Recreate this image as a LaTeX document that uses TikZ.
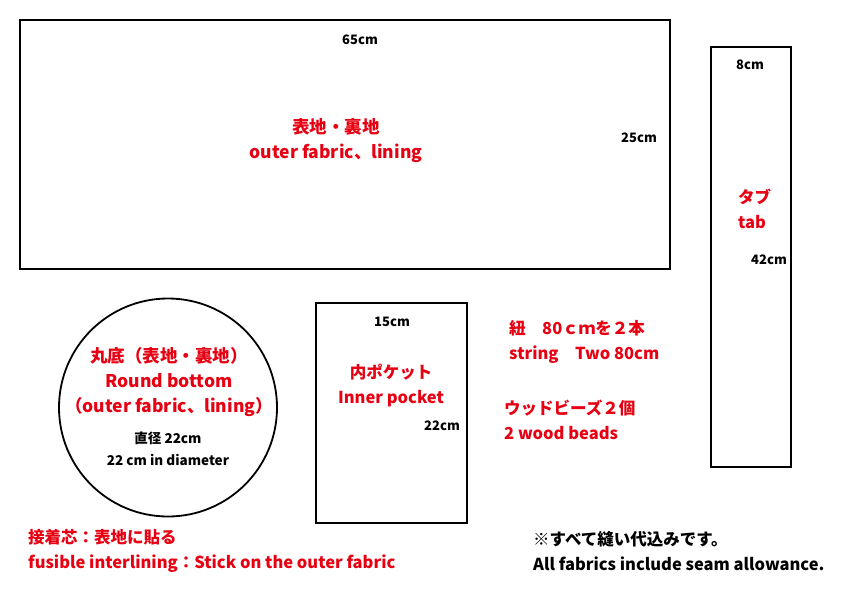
\documentclass[tikz,border=0pt]{standalone}
\usepackage{fontspec}
\setmainfont{Noto Sans CJK JP}
\usetikzlibrary{positioning}
\definecolor{patred}{RGB}{230,0,18}
\newcommand{\bigtext}{\fontsize{16.5}{25}\selectfont\bfseries}
\newcommand{\largetext}{\fontsize{17.5}{25}\selectfont\bfseries}
\newcommand{\smalltext}{\fontsize{13}{22}\selectfont\bfseries}
\tikzstyle{piece} = [draw=black, line width=1.8pt]
\tikzstyle{title} = [font=\bigtext, text=patred, align=center, inner sep=0pt]
\tikzstyle{size} = [font=\smalltext, align=center, inner sep=0pt]
\tikzstyle{note} = [font=\bigtext, align=left, anchor=west, inner sep=0pt]

\begin{document}
\begin{tikzpicture}[x=1pt, y=-1pt, node distance=4pt]

		\useasboundingbox (0,0) rectangle (842,595);

		% body
		\draw [piece] (20,20) rectangle (670,269);
		\node (body_w) [size] at (360,40) {65cm};
		\node (body_h) [size] at (639,138) {25cm};
		\node (body) [title, font=\largetext] at (336,141) {表地・裏地\\outer fabric、lining};

		% tab
		\draw [piece] (711,47) rectangle (791,467);
		\node (tab_w) [size] at (750,65) {8cm};
		\node (tab) [title, align=left, anchor=west] at (738,209) {タブ\\tab};
		\node (tab_h) [size] at (769,260) {42cm};

		% pocket
		\draw [piece] (316,303) rectangle (467,523);
		\node (pocket_w) [size] at (392,322) {15cm};
		\node (pocket) [title] at (391,385) {内ポケット\\Inner pocket};
		\node (pocket_h) [size] at (442,426) {22cm};

		% round bottom
		\draw [piece] (168,407.5) circle (109);
		\node (bottom) [title, font=\largetext] at (169,382) {丸底（表地・裏地）\\Round bottom\\（outer fabric、lining）};
		\node (bottom_d) [size, font=\fontsize{13.5}{22}\selectfont\bfseries] at (168,449) {直径 22cm\\22 cm in diameter};

		% notes
		\node (string) [note, text=patred] at (509,342) {紐　80ｃｍを２本\\string　Two 80cm};
		\node (beads) [note, text=patred] at (504,420) {ウッドビーズ２個\\2 wood beads};
		\node (interlining) [note, text=patred] at (28,551) {接着芯：表地に貼る\\fusible interlining：Stick on the outer fabric};
		\node (allowance) [note] at (533,551) {※すべて縫い代込みです。\\All fabrics include seam allowance.};

	\end{tikzpicture}
\end{document}
